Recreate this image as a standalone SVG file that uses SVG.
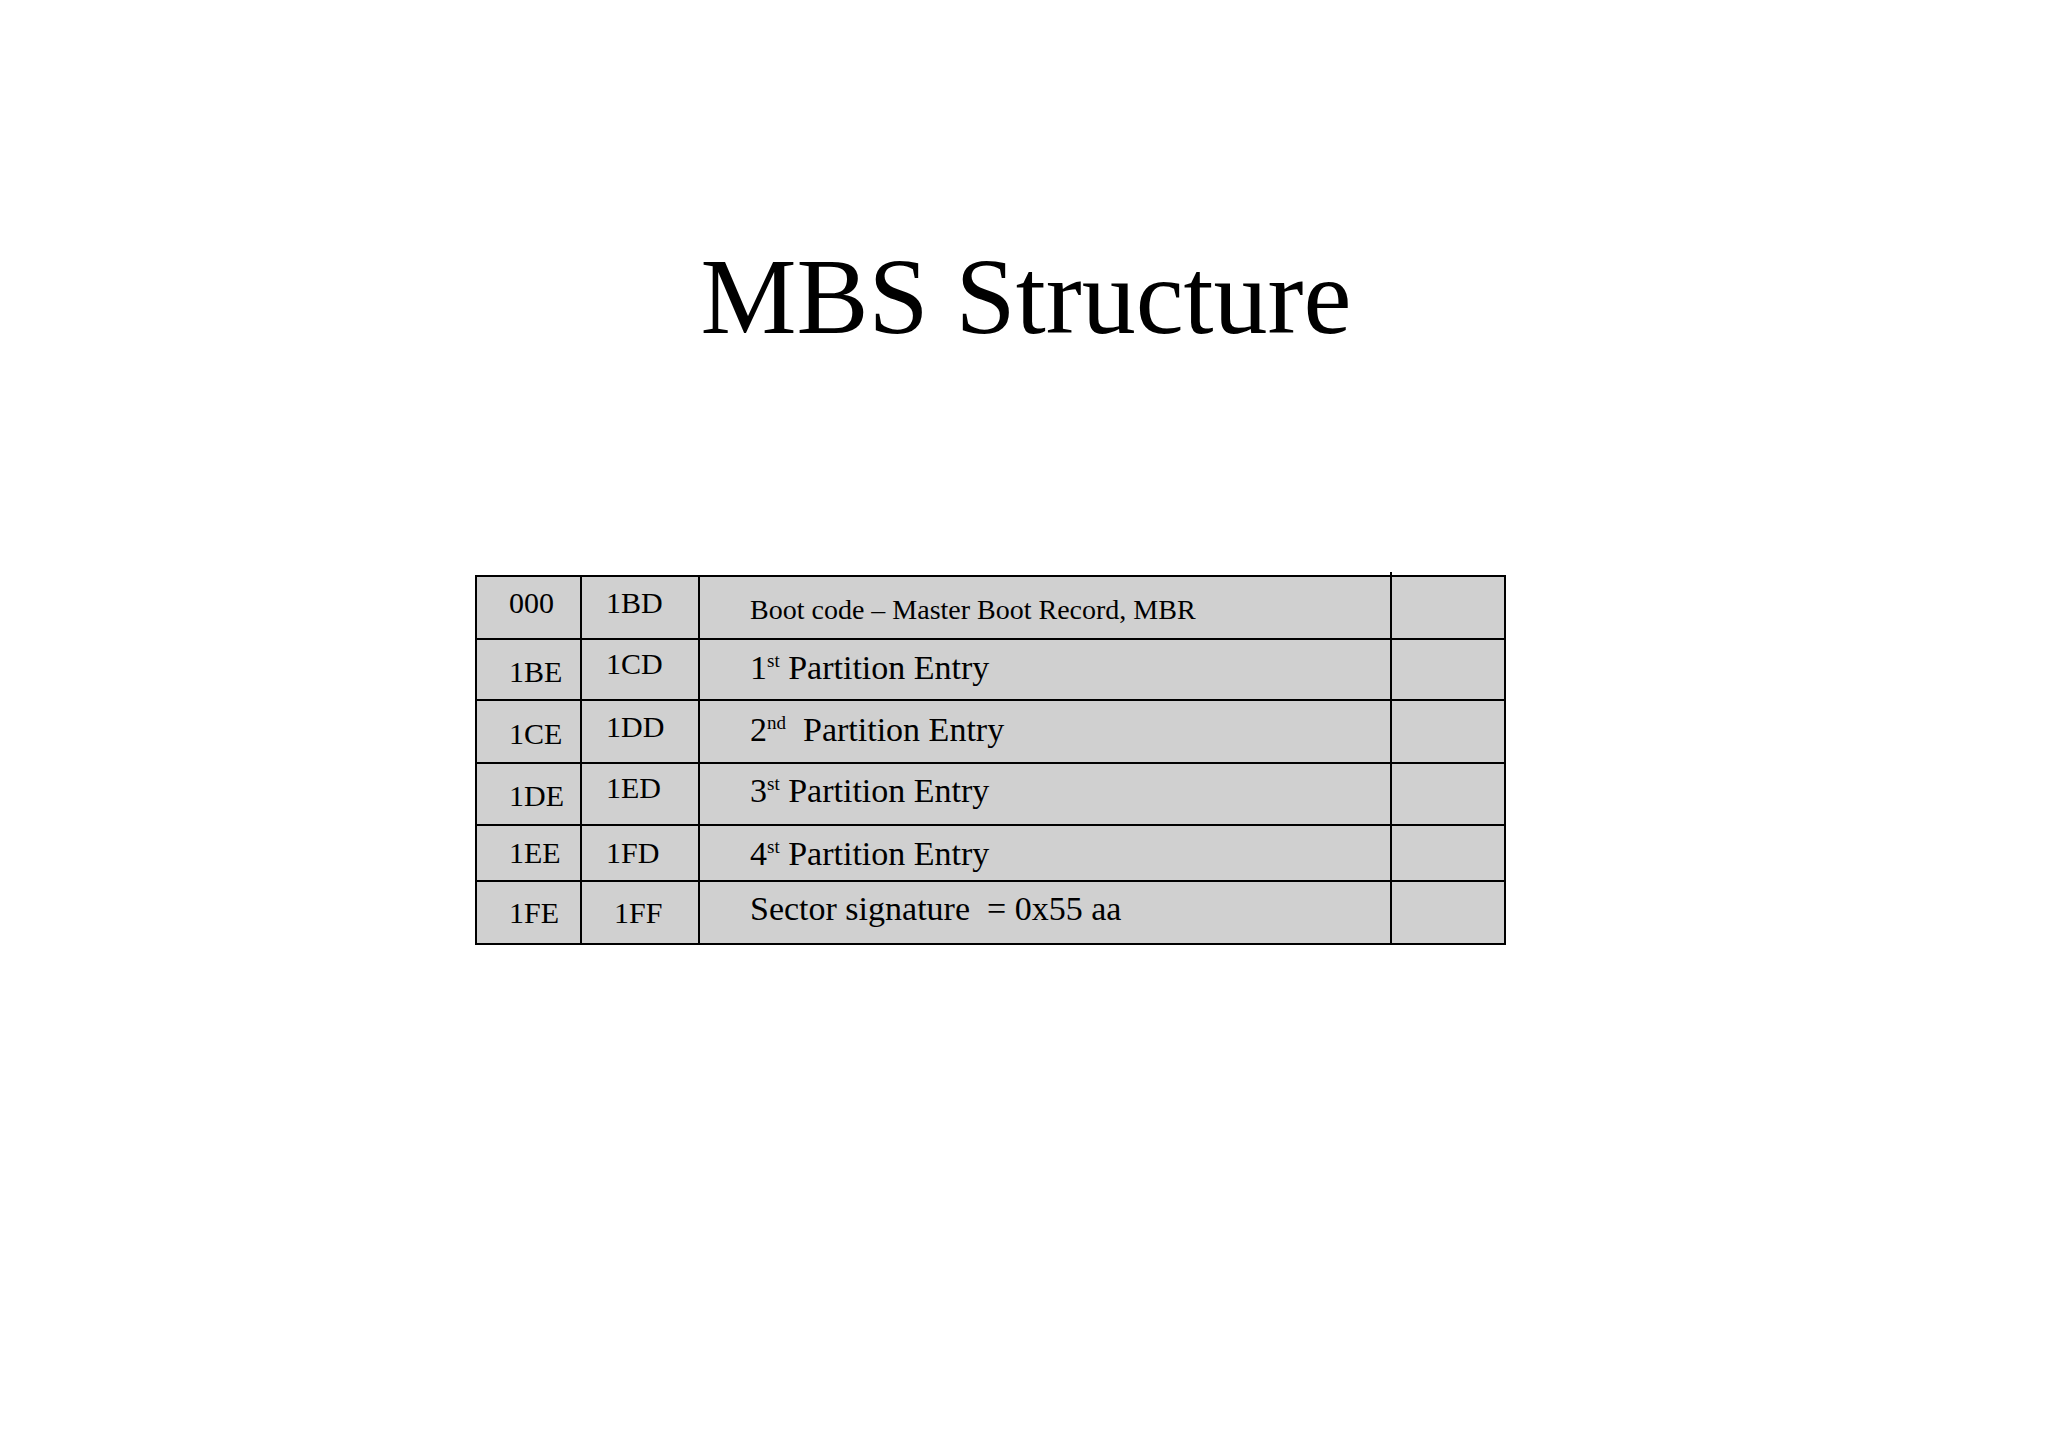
<svg xmlns="http://www.w3.org/2000/svg" width="2048" height="1447" viewBox="0 0 2048 1447">
<style>
text{font-family:"Liberation Serif","Times New Roman",serif;fill:#000}
.c{font-size:30px}
.p{font-size:34px}
.s{font-size:19px}
.ln{stroke:#000;stroke-width:2}
</style>
<rect width="2048" height="1447" fill="#fff"/>
<text x="1026" y="333" font-size="108" text-anchor="middle">MBS Structure</text>
<g id="table">
<rect x="476" y="576" width="1029" height="368" fill="#d0d0d0" class="ln"/>
<g id="lines">
<path class="ln" fill="none" d="M476 639H1505M476 700H1505M476 763H1505M476 825H1505M476 881H1505M581 576V944M699 576V944M1391 572V944"/>
</g>
<g id="r1"><text class="c" x="509" y="613">000</text><text class="c" x="606" y="613">1BD</text><text x="750" y="619" font-size="28">Boot code – Master Boot Record, MBR</text></g>
<g id="r2"><text class="c" x="509" y="682">1BE</text><text class="c" x="606" y="674">1CD</text><text class="p" x="750" y="679">1<tspan class="s" dy="-12">st</tspan><tspan dy="12"> Partition Entry</tspan></text></g>
<g id="r3"><text class="c" x="509" y="744">1CE</text><text class="c" x="606" y="737">1DD</text><text class="p" x="750" y="741">2<tspan class="s" dy="-12">nd</tspan><tspan dy="12" xml:space="preserve">  Partition Entry</tspan></text></g>
<g id="r4"><text class="c" x="509" y="806">1DE</text><text class="c" x="606" y="798">1ED</text><text class="p" x="750" y="802">3<tspan class="s" dy="-12">st</tspan><tspan dy="12"> Partition Entry</tspan></text></g>
<g id="r5"><text class="c" x="509" y="863">1EE</text><text class="c" x="606" y="863">1FD</text><text class="p" x="750" y="865">4<tspan class="s" dy="-12">st</tspan><tspan dy="12"> Partition Entry</tspan></text></g>
<g id="r6"><text class="c" x="509" y="923">1FE</text><text class="c" x="614" y="923">1FF</text><text class="p" x="750" y="920" xml:space="preserve">Sector signature  = 0x55 aa</text></g>
</g>
</svg>
